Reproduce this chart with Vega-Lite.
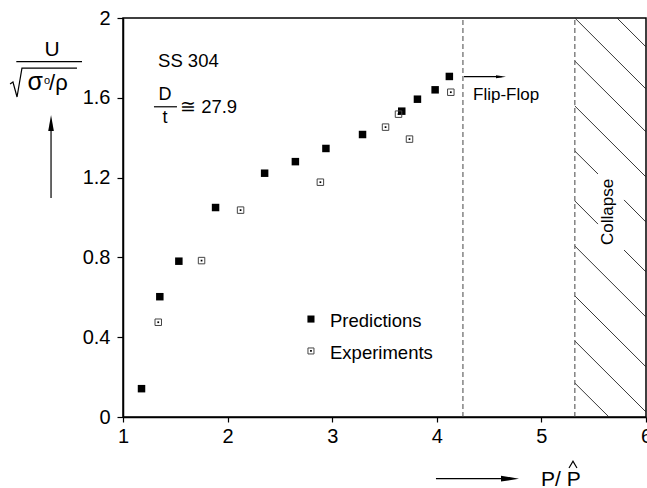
{
  "$schema": "https://vega.github.io/schema/vega-lite/v6.json",
  "width": 523,
  "height": 399,
  "autosize": "none",
  "padding": {"left": 123, "top": 18, "right": 1, "bottom": 71},
  "background": "white",
  "config": {
    "view": {"stroke": "black", "strokeWidth": 1.5},
    "font": "Liberation Sans"
  },
  "datasets": {
    "pred": [
      {"x": 1.177, "y": 0.142}, {"x": 1.352, "y": 0.603}, {"x": 1.534, "y": 0.781},
      {"x": 1.885, "y": 1.05}, {"x": 2.354, "y": 1.222}, {"x": 2.648, "y": 1.28},
      {"x": 2.94, "y": 1.346}, {"x": 3.29, "y": 1.416}, {"x": 3.665, "y": 1.533},
      {"x": 3.815, "y": 1.593}, {"x": 3.984, "y": 1.64}, {"x": 4.12, "y": 1.707}
    ],
    "exp": [
      {"x": 1.337, "y": 0.475}, {"x": 1.751, "y": 0.784}, {"x": 2.124, "y": 1.037},
      {"x": 2.887, "y": 1.177}, {"x": 3.51, "y": 1.453}, {"x": 3.634, "y": 1.518},
      {"x": 3.739, "y": 1.393}, {"x": 4.134, "y": 1.628}
    ],
    "legpred": [{"x": 2.797, "y": 0.491}],
    "legexp": [{"x": 2.797, "y": 0.331}],
    "hatch": [
      {"x": 5.723, "y": 2, "x2": 6, "y2": 1.855},
      {"x": 5.32, "y": 2, "x2": 6, "y2": 1.644},
      {"x": 5.32, "y": 1.784, "x2": 6, "y2": 1.429},
      {"x": 5.32, "y": 1.559, "x2": 6, "y2": 1.203},
      {"x": 5.32, "y": 1.333, "x2": 5.541, "y2": 1.218},
      {"x": 5.79, "y": 1.088, "x2": 6, "y2": 0.977},
      {"x": 5.32, "y": 1.083, "x2": 5.541, "y2": 0.967},
      {"x": 5.79, "y": 0.837, "x2": 6, "y2": 0.727},
      {"x": 5.32, "y": 0.857, "x2": 6, "y2": 0.501},
      {"x": 5.32, "y": 0.607, "x2": 6, "y2": 0.251},
      {"x": 5.32, "y": 0.381, "x2": 6, "y2": 0.025},
      {"x": 5.32, "y": 0.17, "x2": 5.646, "y2": 0}
    ],
    "vlines": [{"x": 4.25, "y": 0, "y2": 2}, {"x": 5.32, "y": 0, "y2": 2}],
    "segs": [
      {"x": -0.02, "y": 1.781, "x2": 0.608, "y2": 1.781},
      {"x": 1.296, "y": 1.555, "x2": 1.516, "y2": 1.555},
      {"x": 0.312, "y": 1.098, "x2": 0.312, "y2": 1.46},
      {"x": 4.26, "y": 1.706, "x2": 4.62, "y2": 1.706},
      {"x": 3.992, "y": -0.309, "x2": 4.68, "y2": -0.309}
    ],
    "strokes": [
      {"g": "r", "o": 1, "x": -0.08, "y": 1.669},
      {"g": "r", "o": 2, "x": -0.052, "y": 1.679},
      {"g": "r", "o": 3, "x": -0.013, "y": 1.604},
      {"g": "r", "o": 4, "x": 0.034, "y": 1.749},
      {"g": "r", "o": 5, "x": 0.56, "y": 1.749},
      {"g": "h", "o": 1, "x": 5.264, "y": -0.256},
      {"g": "h", "o": 2, "x": 5.302, "y": -0.221},
      {"g": "h", "o": 3, "x": 5.34, "y": -0.256}
    ],
    "uphead": [{"x": 0.312, "y": 1.474}],
    "fliphead": [{"x": 4.614, "y": 1.706}],
    "xhead": [{"x": 4.7, "y": -0.309}],
    "notes": [
      {"x": 1.335, "y": 1.756, "t": "SS 304"},
      {"x": 1.545, "y": 1.524, "t": "≅ 27.9"},
      {"x": 2.979, "y": 0.451, "t": "Predictions"},
      {"x": 2.979, "y": 0.293, "t": "Experiments"}
    ],
    "flip": [{"x": 4.346, "y": 1.589, "t": "Flip-Flop"}],
    "frac": [
      {"x": 1.402, "y": 1.589, "t": "D"},
      {"x": 1.402, "y": 1.474, "t": "t"}
    ],
    "collapse": [{"x": 5.637, "y": 1.028, "t": "Collapse"}],
    "utext": [{"x": 0.321, "y": 1.81, "t": "U"}],
    "sigma": [{"x": 0.088, "y": 1.639, "t": "σ"}],
    "rho": [{"x": 0.293, "y": 1.639, "t": "/ρ"}],
    "smallo": [{"x": 0.245, "y": 1.669, "t": "o"}],
    "xtitle": [{"x": 4.996, "y": -0.346, "t": "P/ P"}],
    "subs": [
      {"x": 5.054, "y": -0.416, "t": "I"},
      {"x": 5.312, "y": -0.401, "t": "P"}
    ]
  },
  "encoding": {
    "x": {
      "field": "x", "type": "quantitative",
      "scale": {"domain": [1, 6], "nice": false, "zero": false},
      "axis": {
        "values": [1, 2, 3, 4, 5, 6], "title": null, "grid": false,
        "labelFontSize": 20, "labelFont": "Liberation Sans", "labelColor": "black",
        "tickColor": "black", "domainColor": "black", "domainWidth": 1.5,
        "tickWidth": 1.2, "tickSize": 5, "labelPadding": 4, "labelFlush": false, "labelOverlap": false
      }
    },
    "y": {
      "field": "y", "type": "quantitative",
      "scale": {"domain": [0, 2], "nice": false, "zero": false},
      "axis": {
        "values": [0, 0.4, 0.8, 1.2, 1.6, 2], "format": "~g", "title": null, "grid": false,
        "labelFontSize": 20, "labelFont": "Liberation Sans", "labelColor": "black",
        "tickColor": "black", "domainColor": "black", "domainWidth": 1.5,
        "tickWidth": 1.2, "tickSize": 6, "labelPadding": 7, "labelFlush": false, "labelOverlap": false
      }
    }
  },
  "layer": [
    {
      "data": {"name": "hatch"},
      "mark": {"type": "rule", "color": "#222", "strokeWidth": 0.9},
      "encoding": {"x2": {"field": "x2"}, "y2": {"field": "y2"}}
    },
    {
      "data": {"name": "vlines"},
      "mark": {"type": "rule", "color": "#444", "strokeWidth": 1, "strokeDash": [5, 3]},
      "encoding": {"y2": {"field": "y2"}}
    },
    {
      "data": {"name": "segs"},
      "mark": {"type": "rule", "color": "black", "strokeWidth": 1.2},
      "encoding": {"x2": {"field": "x2"}, "y2": {"field": "y2"}}
    },
    {
      "data": {"name": "strokes"},
      "mark": {"type": "line", "color": "black", "strokeWidth": 1.2},
      "encoding": {"detail": {"field": "g"}, "order": {"field": "o"}}
    },
    {
      "data": {"name": "uphead"},
      "mark": {"type": "point", "shape": "M0,-1L0.35,1L-0.35,1Z", "size": 256, "filled": true, "color": "black", "opacity": 1}
    },
    {
      "data": {"name": "fliphead"},
      "mark": {"type": "point", "shape": "M1,0L-1,-0.3L-1,0.3Z", "size": 100, "filled": true, "color": "black", "opacity": 1}
    },
    {
      "data": {"name": "xhead"},
      "mark": {"type": "point", "shape": "M1,0L-1,-0.33L-1,0.33Z", "size": 324, "filled": true, "color": "black", "opacity": 1}
    },
    {
      "data": {"name": "pred"},
      "mark": {"type": "square", "size": 56, "color": "black", "opacity": 1}
    },
    {
      "data": {"name": "legpred"},
      "mark": {"type": "square", "size": 50, "color": "black", "opacity": 1}
    },
    {
      "data": {"name": "exp"},
      "mark": {"type": "square", "size": 42, "filled": false, "stroke": "#444", "strokeWidth": 1, "opacity": 1}
    },
    {
      "data": {"name": "exp"},
      "mark": {"type": "square", "size": 3, "color": "black", "opacity": 1}
    },
    {
      "data": {"name": "legexp"},
      "mark": {"type": "square", "size": 36, "filled": false, "stroke": "#444", "strokeWidth": 1, "opacity": 1}
    },
    {
      "data": {"name": "legexp"},
      "mark": {"type": "square", "size": 3, "color": "black", "opacity": 1}
    },
    {
      "data": {"name": "notes"},
      "mark": {"type": "text", "align": "left", "baseline": "alphabetic", "fontSize": 18.5, "font": "Liberation Sans", "color": "black"},
      "encoding": {"text": {"field": "t"}}
    },
    {
      "data": {"name": "flip"},
      "mark": {"type": "text", "align": "left", "baseline": "alphabetic", "fontSize": 17, "font": "Liberation Sans", "color": "black"},
      "encoding": {"text": {"field": "t"}}
    },
    {
      "data": {"name": "frac"},
      "mark": {"type": "text", "align": "center", "baseline": "alphabetic", "fontSize": 18, "font": "Liberation Sans", "color": "black"},
      "encoding": {"text": {"field": "t"}}
    },
    {
      "data": {"name": "collapse"},
      "mark": {"type": "text", "align": "center", "baseline": "middle", "angle": 270, "fontSize": 17, "font": "Liberation Sans", "color": "black"},
      "encoding": {"text": {"field": "t"}}
    },
    {
      "data": {"name": "utext"},
      "mark": {"type": "text", "align": "center", "baseline": "alphabetic", "fontSize": 21, "font": "Liberation Sans", "color": "black"},
      "encoding": {"text": {"field": "t"}}
    },
    {
      "data": {"name": "sigma"},
      "mark": {"type": "text", "align": "left", "baseline": "alphabetic", "fontSize": 25, "font": "Liberation Sans", "color": "black"},
      "encoding": {"text": {"field": "t"}}
    },
    {
      "data": {"name": "rho"},
      "mark": {"type": "text", "align": "left", "baseline": "alphabetic", "fontSize": 22, "font": "Liberation Sans", "color": "black"},
      "encoding": {"text": {"field": "t"}}
    },
    {
      "data": {"name": "smallo"},
      "mark": {"type": "text", "align": "left", "baseline": "alphabetic", "fontSize": 11, "font": "Liberation Sans", "color": "black"},
      "encoding": {"text": {"field": "t"}}
    },
    {
      "data": {"name": "xtitle"},
      "mark": {"type": "text", "align": "left", "baseline": "alphabetic", "fontSize": 21, "font": "Liberation Sans", "color": "black"},
      "encoding": {"text": {"field": "t"}}
    },
    {
      "data": {"name": "subs"},
      "mark": {"type": "text", "align": "center", "baseline": "alphabetic", "fontSize": 12, "font": "Liberation Sans", "color": "black"},
      "encoding": {"text": {"field": "t"}}
    }
  ]
}
